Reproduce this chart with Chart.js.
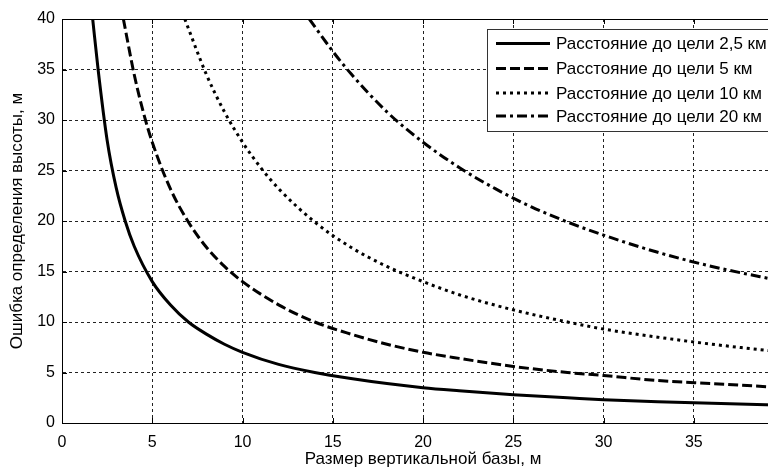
<!DOCTYPE html>
<html>
<head>
<meta charset="utf-8">
<script src="https://cdn.jsdelivr.net/npm/chart.js@4"></script>
<style>
  html, body { margin: 0; background: #fff; overflow: hidden; }
  /* ось X идёт до 40, правый край поля уходит за кадр 768 px, как на исходнике */
  #wrap { position: absolute; left: 0; top: 0; width: 803px; height: 470px; }
</style>
</head>
<body>
<div id="wrap"><canvas id="myChart"></canvas></div>
<script>
// Данные
const seriesNames = ['Расстояние до цели 2,5 км', 'Расстояние до цели 5 км', 'Расстояние до цели 10 км', 'Расстояние до цели 20 км'];

const x25 = [1.7, 2, 2.5, 3, 3.5, 4, 5, 6, 7, 8, 9, 10, 12, 14, 16, 18, 20, 22, 25, 28, 30, 33, 36, 40];
const y25 = [40, 35, 28, 23.3, 20, 17.5, 14, 11.7, 10, 8.8, 7.8, 7, 5.8, 5, 4.4, 3.9, 3.5, 3.2, 2.8, 2.5, 2.3, 2.1, 1.95, 1.75];

const x5 = [3.4, 4, 4.5, 5, 6, 7, 8, 9, 10, 12, 14, 16, 18, 20, 22, 25, 28, 30, 33, 36, 40];
const y5 = [40, 34.5, 30.8, 27.8, 23.2, 19.9, 17.4, 15.5, 14, 11.7, 10, 8.8, 7.8, 7, 6.4, 5.6, 5, 4.7, 4.2, 3.9, 3.5];

const x10 = [6.8, 8, 9, 10, 11, 12, 14, 16, 18, 20, 22, 25, 28, 30, 33, 36, 40];
const y10 = [40, 34.5, 30.8, 27.8, 25.3, 23.2, 19.9, 17.4, 15.5, 14, 12.7, 11.2, 10, 9.3, 8.5, 7.8, 7];

const x20 = [13.7, 15, 16, 18, 20, 22, 24, 26, 28, 30, 33, 36, 40];
const y20 = [40, 36.8, 34.6, 30.8, 27.8, 25.3, 23.2, 21.4, 19.9, 18.6, 16.9, 15.5, 14];

const xTicks = [0, 5, 10, 15, 20, 25, 30, 35, 40];
const yTicks = [0, 5, 10, 15, 20, 25, 30, 35, 40];

const dashes = [[], [10, 4], [3, 4], [10, 4, 3, 4]];

function toPoints(xs, ys) {
    return xs.map((x, i) => ({ x: x, y: ys[i] }));
}

const FONT = '"Liberation Sans", Arial, sans-serif';

// Рамка сверху, засечки и легенда внутри поля графика
const matlabStyle = {
    id: 'matlabStyle',
    afterDraw(chart) {
        const ctx = chart.ctx;
        const a = chart.chartArea;
        const sx = chart.scales.x, sy = chart.scales.y;
        ctx.save();
        ctx.strokeStyle = '#000';
        ctx.lineWidth = 1;
        ctx.setLineDash([]);
        ctx.beginPath();
        ctx.moveTo(a.left, a.top + 0.5);
        ctx.lineTo(a.right, a.top + 0.5);
        ctx.moveTo(a.right - 0.5, a.top);
        ctx.lineTo(a.right - 0.5, a.bottom);
        xTicks.forEach(v => {
            const px = Math.round(sx.getPixelForValue(v)) + 0.5;
            ctx.moveTo(px, a.bottom); ctx.lineTo(px, a.bottom - 5);
            ctx.moveTo(px, a.top); ctx.lineTo(px, a.top + 5);
        });
        yTicks.forEach(v => {
            const py = Math.round(sy.getPixelForValue(v)) + 0.5;
            ctx.moveTo(a.left, py); ctx.lineTo(a.left + 5, py);
        });
        ctx.stroke();

        // легенда
        const bx = 487.5, by = 29.5, bw = 292, bh = 102;
        ctx.fillStyle = '#fff';
        ctx.fillRect(bx, by, bw, bh);
        ctx.strokeStyle = '#333';
        ctx.strokeRect(bx, by, bw, bh);
        const rows = [43.5, 68.5, 93, 116];
        ctx.font = '17px ' + FONT;
        ctx.textBaseline = 'middle';
        ctx.textAlign = 'left';
        seriesNames.forEach((name, i) => {
            ctx.strokeStyle = '#000';
            ctx.lineWidth = 3;
            ctx.setLineDash(dashes[i]);
            ctx.beginPath();
            ctx.moveTo(496, rows[i]);
            ctx.lineTo(550, rows[i]);
            ctx.stroke();
            ctx.setLineDash([]);
            ctx.fillStyle = '#000';
            ctx.fillText(name, 556, rows[i] + 1);
        });
        ctx.restore();
    }
};

const ctxChart = document.getElementById('myChart').getContext('2d');
const chart = new Chart(ctxChart, {
    type: 'line',
    data: {
        datasets: [
            { label: seriesNames[0], data: toPoints(x25, y25) },
            { label: seriesNames[1], data: toPoints(x5, y5) },
            { label: seriesNames[2], data: toPoints(x10, y10) },
            { label: seriesNames[3], data: toPoints(x20, y20) }
        ].map((d, i) => Object.assign(d, {
            borderColor: '#000',
            borderWidth: 3,
            borderDash: dashes[i],
            pointRadius: 0,
            cubicInterpolationMode: 'monotone',
            fill: false
        }))
    },
    options: {
        responsive: true,
        maintainAspectRatio: false,
        animation: false,
        layout: { padding: { top: 19, right: 6, left: 0, bottom: 0 } },
        plugins: {
            legend: { display: false },
            tooltip: { enabled: false }
        },
        scales: {
            x: {
                type: 'linear',
                min: 0,
                max: 40,
                afterFit(scale) { scale.height = 47; },
                afterBuildTicks(scale) { scale.ticks = xTicks.map(v => ({ value: v })); },
                ticks: { color: '#000', font: { family: FONT, size: 16 }, padding: 10, maxRotation: 0 },
                grid: { color: '#222', drawTicks: false },
                border: { display: true, color: '#000', width: 1, dash: [3, 3] },
                title: {
                    display: true,
                    text: 'Размер вертикальной базы, м',
                    color: '#000',
                    font: { family: FONT, size: 17 },
                    padding: { top: 0, bottom: 0 }
                }
            },
            y: {
                min: 0,
                max: 40,
                afterFit(scale) { scale.width = 62; },
                afterBuildTicks(scale) { scale.ticks = yTicks.map(v => ({ value: v })); },
                ticks: { color: '#000', font: { family: FONT, size: 16 }, padding: 7 },
                grid: { color: '#222', drawTicks: false },
                border: { display: true, color: '#000', width: 1, dash: [3, 3] },
                title: {
                    display: true,
                    text: 'Ошибка определения высоты, м',
                    color: '#000',
                    font: { family: FONT, size: 17 },
                    padding: { top: 7, bottom: 0 }
                }
            }
        }
    },
    plugins: [matlabStyle]
});
</script>
</body>
</html>
